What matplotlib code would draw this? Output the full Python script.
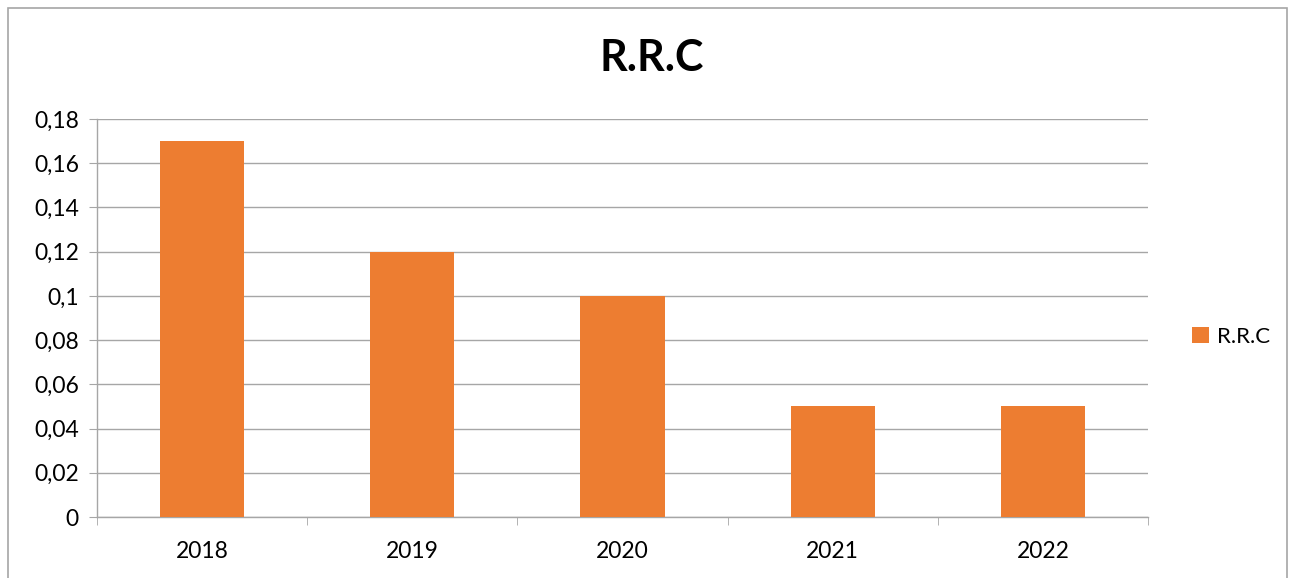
import matplotlib.pyplot as plt
from matplotlib.patches import Rectangle
from matplotlib.ticker import FuncFormatter

plt.rcParams['font.family'] = ['Lato', 'DejaVu Sans']

# données
annees = ['2018', '2019', '2020', '2021', '2022']
rrc = [0.17, 0.12, 0.10, 0.05, 0.05]
yticks = [0, 0.02, 0.04, 0.06, 0.08, 0.1, 0.12, 0.14, 0.16, 0.18]

orange = '#ed7d31'
gris = '#a6a6a6'

fig = plt.figure(figsize=(12.95, 5.78), dpi=100)
ax = fig.add_axes([97 / 1295, 1 - 517 / 578, (1148 - 97) / 1295, (517 - 119) / 578])

x = range(len(annees))
ax.bar(x, rrc, width=0.4, color=orange, label='R.R.C', zorder=3)

ax.set_xlim(-0.5, len(annees) - 0.5)
ax.set_ylim(0, 0.18)
ax.set_yticks(yticks)
ax.yaxis.set_major_formatter(FuncFormatter(lambda v, p: ('%g' % round(v, 2)).replace('.', ',')))
ax.set_xticks(list(x))
ax.set_xticklabels(annees)
ax.set_xticks([i - 0.5 for i in range(len(annees) + 1)], minor=True)

ax.grid(axis='y', color=gris, linewidth=1, zorder=0)
for s in ['top', 'right']:
    ax.spines[s].set_visible(False)
for s in ['left', 'bottom']:
    ax.spines[s].set_color(gris)
    ax.spines[s].set_linewidth(1)

ax.tick_params(axis='y', length=6, color=gris, labelsize=16.5, pad=7)
ax.tick_params(axis='x', which='major', length=0, labelsize=16.5, pad=17)
ax.tick_params(axis='x', which='minor', length=6, color=gris)

fig.text(652 / 1295, 1 - 58 / 578, 'R.R.C', ha='center', va='center',
         fontsize=31, fontweight='bold')

ax.legend(loc='center left', bbox_to_anchor=(1181 / 1295, 1 - 337 / 578),
          bbox_transform=fig.transFigure, frameon=False, fontsize=16,
          handlelength=0.75, handleheight=0.75, handletextpad=0.35, borderpad=0)

# cadre du graphique
fig.patches.append(Rectangle((8 / 1295, -0.1), 1279 / 1295, 1.1 - 8 / 578,
                             transform=fig.transFigure, fill=False,
                             edgecolor=gris, linewidth=1.2))

fig.savefig('out.png', dpi=100)
